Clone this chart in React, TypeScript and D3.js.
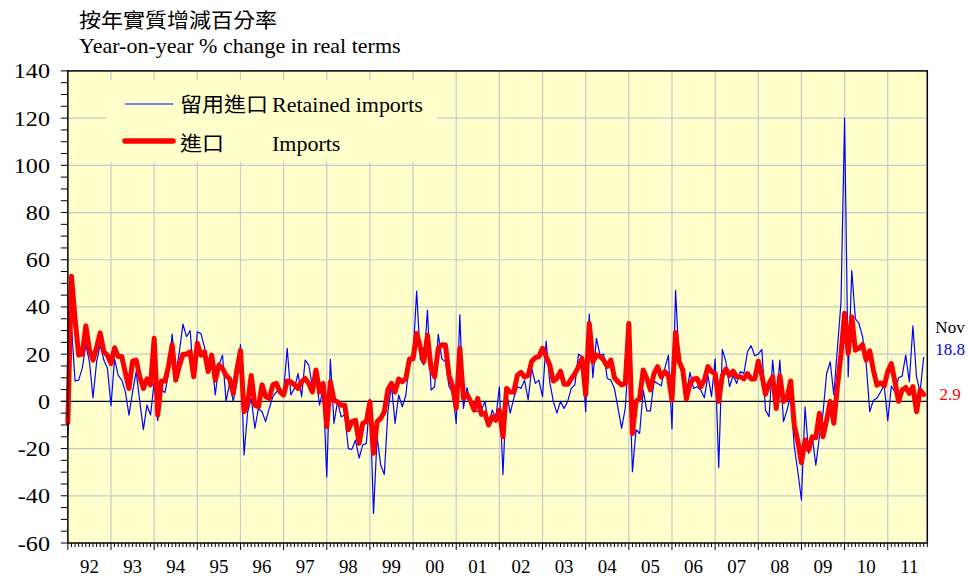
import * as d3 from 'd3'

// Year-on-year % change in real terms, monthly Jan 1992 - Nov 2011
const yearLabels = ['92', '93', '94', '95', '96', '97', '98', '99', '00', '01',
  '02', '03', '04', '05', '06', '07', '08', '09', '10', '11']

const yTicks = [-60, -40, -20, 0, 20, 40, 60, 80, 100, 120, 140]

const imports = [
  -9, 53, 35, 19.6, 20, 32, 22, 17.5, 23, 29, 21, 19.6,
  16, 22.7, 19, 19, 12, 5.5, 17, 17.5, 10.4, 5.5, 9.5, 7,
  26.7, -5.8, 8.6, 8.6, 15, 24, 9, 15, 20, 20, 21, 10.4,
  24.6, 19.6, 21, 12.6, 19.6, 9, 15.4, 14, 11, 9.5, 3.4, 13.3,
  21.5, -4.4, -0.9, 11, -1.6, -2.3, 7, 2, 1.3, 7, 7.6, 4,
  2.7, 8.6, 8.3, 7, 5.5, 8.3, 9.7, 7.6, 4, 13.3, 4, 7.6,
  -10.7, 8.3, 0.5, -0.2, -1.6, -1.6, -12, -8.6, -8, -17.8, -9.3, -8.6,
  -0.2, -22, -8.6, -7.2, -4.4, 5, 7.6, 4, 9.5, 8.3, 9.7, 18,
  18, 28.8, 23, 16.8, 28, 14, 10.4, 22.5, 24, 23.9, 11, 6.2,
  -3, 22.5, 1.3, 3, 0, -3.7, 1.3, -5.5, -5, -10, -6.5, -8,
  -3.7, -15, 5.5, 4, 4, 11, 12.3, 10.4, 11, 17, 18.5, 19,
  22.5, 19, 15.4, 8.6, 9.7, 12.8, 7.2, 7.2, 9.5, 11.8, 14.7, 18.2,
  2.7, 33, 16.8, 19.6, 19, 17.5, 14.7, 17.5, 10, 8.3, 7, 7.6,
  33, -13.6, 0, 1.3, 13.3, 9.7, 4.8, 11.8, 14.7, 10.4, 12.6, 10.9,
  0.6, 29.2, 16.8, 13.3, 1, 7.6, 9.5, 9.7, 6.2, 9, 14.7, 12.6,
  11.8, 0, 11, 13.7, 11, 12.8, 10.4, 10.4, 9.5, 11.8, 9.5, 9.5,
  17, 11, 3, 7.6, 10.4, -3, 10.9, 0, 1.3, 8.6, -10, -17,
  -26, -16.4, -20.6, -15, -15.4, -5, -15, -8, 0, -9.3, 6.2, 20,
  37.3, 20.3, 35.8, 21.7, 22.5, 24, 17.5, 21.4, 13.3, 6.9, 7.9, 6.5,
  12.6, 16, 8.3, 0, 4.8, 5.9, 3.4, 6.2, -4.4, 4.8, 2.9
]

const retained = [
  -15, 32, 8.7, 9, 14, 24, 16.8, 1.5, 16.8, 24, 17.5, 14,
  -1.8, 18, 11, 9, 4, -5.8, 4, 12.6, 0, -12, -1.6, -5.8,
  8.3, -8.2, 4.8, 3.8, 11.8, 28.5, 11, 21, 32.7, 27.4, 30, 10.4,
  29.5, 28.7, 23, 15.4, 18, 2.7, 15.4, 19.6, 0, 7.6, 0, 8.3,
  24, -22.7, -4.4, 1.3, -11.4, -3, -4.4, -8.6, -3, 2, 4, 5.5,
  4, 22.5, 2.7, 5.5, 11.8, 2, 17.5, 15.4, 6.2, 9.7, -1.6, 5.5,
  -32, 17.8, -9.3, 0, -6.5, -5.8, -20, -20.3, -16.4, -24, -18.5, -17.8,
  1, -47.5, -15, -27, -31, -4.4, 7, -9.3, 2.7, -2.3, 2.7, 18,
  19.6, 46.7, 18, 15.4, 38.7, 4.8, 6.2, 28.5, 18, 16.8, 6.2, 4,
  -9.3, 36.8, -3, 5.8, 0, -3, -4.4, -3.7, 0, -10.7, -3.7, -7.2,
  6.2, -31, 4, -5, 1.3, 6.2, 5.5, 9, 0.6, 14, 7.6, 9,
  2, 25.5, 8.3, 0, -5, 0, -3, 0, 5.5, 7, 20, 19,
  -4.4, 37, 10, 26.7, 19.6, 20, 9.7, 9, 5.5, -3, -11.4, -3,
  19.6, -29.8, -12, -13.6, 4.8, -4, -4, 8.6, 7.6, 6.6, 14, 19.6,
  -11.7, 47, 16, 11, 2.7, 12.3, 5.5, 6.2, 4.8, 1.5, 11, 2,
  18, -28, 22, 16.8, 6.2, 11, 7.6, 12.6, 11.8, 21, 23.6, 19.3,
  20, 22, -3.7, -6.5, 17.5, 0, 17.5, -8.6, -3.7, 2.7, -19, -29.8,
  -41.8, -2.3, -22, -15, -27, -15, -5, 11.8, 16.8, 2.7, 22.5, 42,
  120, 10.4, 55.4, 35, 33, 27.4, 16, -4.4, 0.5, 1.3, 4, 7,
  -8.2, 6.5, 4, 10, 10.7, 19.6, 8.3, 32, 10.4, 4, 18.8
]

const FONT = "'Liberation Serif', 'Times New Roman', 'Noto Sans CJK TC', serif"

function T({ x, y, size = 20, anchor = 'start', fill = '#000', sx = 1.1, children }: any) {
  return (
    <text
      transform={`translate(${x},${y}) scale(${sx},1)`}
      fontSize={size}
      textAnchor={anchor}
      fill={fill}
      fontFamily={FONT}
    >
      {children}
    </text>
  )
}

export default function App() {
  const left = 67.85
  const right = 927.3
  const top = 70.9
  const bottom = 543
  const nMonths = 239

  const x = d3.scaleLinear().domain([0, nMonths]).range([left, right])
  const y = d3.scaleLinear().domain([-60, 140]).range([bottom, top])

  const line = d3.line<number>()
    .x((_, i) => x(i))
    .y(d => y(d))

  const minorY = d3.range(-60, 141, 5)
  const months = d3.range(0, nMonths + 1)
  const bg = '#FFFFCC'
  const grid = '#C8C8C8'

  return (
    <svg width={968} height={576} style={{ position: 'absolute', left: 0, top: 0 }}>
      <rect x={0} y={0} width={968} height={576} fill="#fff" />
      <rect x={left} y={top} width={right - left} height={bottom - top} fill={bg} />

      {/* gridlines */}
      {yTicks.filter(v => v > -60 && v < 140 && v !== 0).map(v => (
        <line key={'gy' + v} x1={left} x2={right} y1={y(v)} y2={y(v)} stroke={grid} strokeWidth={1.2} />
      ))}
      {yearLabels.slice(1).map((_, k) => (
        <line key={'gx' + k} x1={x((k + 1) * 12)} x2={x((k + 1) * 12)} y1={top} y2={bottom} stroke={grid} strokeWidth={1.2} />
      ))}

      {/* legend box hides the grid */}
      <rect x={106} y={80} width={331} height={82} fill={bg} />
      <line x1={125} x2={173} y1={104} y2={104} stroke="#0000FF" strokeWidth={1.2} />
      <T x={180} y={112}>留用進口</T>
      <T x={272} y={112}>Retained imports</T>
      <line x1={125} x2={173} y1={141} y2={141} stroke="#FF0000" strokeWidth={5.5} strokeLinecap="round" />
      <T x={180} y={151}>進口</T>
      <T x={272} y={151}>Imports</T>

      {/* zero line */}
      <line x1={left - 7} x2={right} y1={y(0)} y2={y(0)} stroke="#000" strokeWidth={1.2} />

      {/* series */}
      <path d={line(retained) ?? ''} fill="none" stroke="#0000FF" strokeWidth={1.2} strokeLinejoin="round" />
      <path d={line(imports) ?? ''} fill="none" stroke="#FF0000" strokeWidth={5} strokeLinejoin="round" strokeLinecap="round" />

      {/* frame */}
      <rect x={left} y={top} width={right - left} height={bottom - top} fill="none" stroke="#000" strokeWidth={1.5} />

      {/* y ticks */}
      {minorY.map(v => (
        <line key={'ty' + v} x1={left - 7} x2={left} y1={y(v)} y2={y(v)} stroke="#000" strokeWidth={1} />
      ))}
      {yTicks.map(v => (
        <T key={'ly' + v} x={50} y={y(v) + 7.5} size={21} anchor="end" sx={1.15}>{v}</T>
      ))}

      {/* x ticks */}
      {months.map(i => (
        <line key={'tx' + i} x1={x(i)} x2={x(i)} y1={bottom} y2={bottom + (i % 12 === 0 ? 7 : 4)} stroke="#000" strokeWidth={1} />
      ))}
      {yearLabels.map((lab, k) => (
        <T key={'lx' + lab} x={x(k * 12 + 6)} y={573} size={18} anchor="middle" sx={1.05}>{lab}</T>
      ))}

      {/* titles */}
      <T x={79} y={28}>按年實質增減百分率</T>
      <T x={79} y={53}>Year-on-year % change in real terms</T>

      {/* latest values */}
      <T x={950} y={333} size={17} anchor="middle" sx={1}>Nov</T>
      <T x={950} y={355} size={17} anchor="middle" sx={1} fill="#0000FF">{retained[retained.length - 1]}</T>
      <T x={950} y={400} size={17} anchor="middle" sx={1} fill="#FF0000">{imports[imports.length - 1]}</T>
    </svg>
  )
}
